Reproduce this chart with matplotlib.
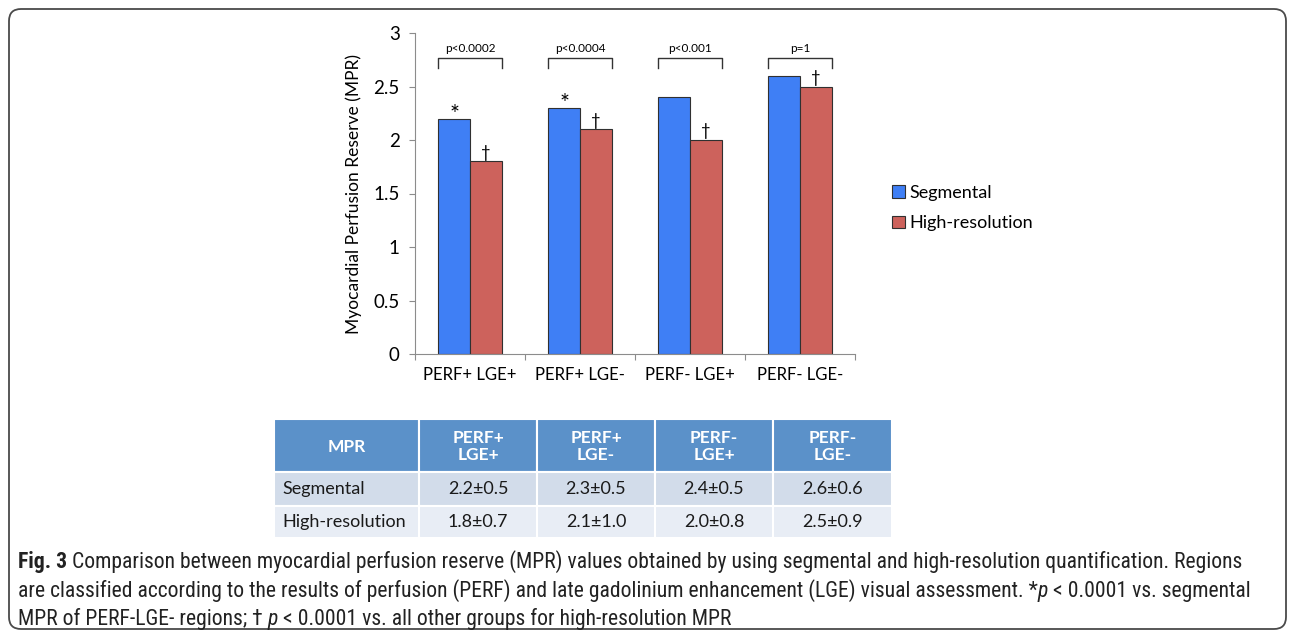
import matplotlib
matplotlib.use("Agg")
import matplotlib.pyplot as plt
from matplotlib.patches import FancyBboxPatch, Rectangle
from matplotlib import font_manager
import numpy as np

# data
categories = ["PERF+ LGE+", "PERF+ LGE-", "PERF- LGE+", "PERF- LGE-"]
segmental = [2.2, 2.3, 2.4, 2.6]
high_res = [1.8, 2.1, 2.0, 2.5]
seg_sd = [0.5, 0.5, 0.5, 0.6]
high_sd = [0.7, 1.0, 0.8, 0.9]
p_values = ["p<0.0002", "p<0.0004", "p<0.001", "p=1"]
star_marks = [True, True, False, False]
dagger_marks = [True, True, True, True]
series_names = ["Segmental", "High-resolution"]
table_head = ["MPR", "PERF+\nLGE+", "PERF+\nLGE-", "PERF-\nLGE+", "PERF-\nLGE-"]

BLUE = "#3f7ff5"
RED = "#cd625c"
CHART_FONT = ["Lato", "DejaVu Sans"]

names = {f.name for f in font_manager.fontManager.ttflist}
cap_font = next((n for n in ["Liberation Sans Narrow", "Roboto Condensed", "Open Sans Condensed"]
                 if n in names), "Roboto")

W, H = 1295, 637
fig = plt.figure(figsize=(W / 100, H / 100), dpi=100)

# overlay in pixel coords for border, table and caption
ov = fig.add_axes([0, 0, 1, 1])
ov.set_xlim(0, W)
ov.set_ylim(H, 0)
ov.axis("off")
ov.add_patch(FancyBboxPatch((9, 9), W - 18, H - 17, boxstyle="round,pad=0,rounding_size=12",
                            fc="white", ec="#4a4a4a", lw=1.3))

# --- bar chart ---
ax = fig.add_axes([415 / W, (H - 354) / H, 440 / W, 321 / H])
ax.set_facecolor("none")
x = np.arange(len(categories))
w = 0.29
ax.bar(x - w / 2, segmental, w, color=BLUE, edgecolor="#303030", lw=0.8, label=series_names[0])
ax.bar(x + w / 2, high_res, w, color=RED, edgecolor="#303030", lw=0.8, label=series_names[1])

for i in range(len(categories)):
    x0, x1 = i - w, i + w
    ax.plot([x0, x0, x1, x1], [2.67, 2.77, 2.77, 2.67], color="#333333", lw=1)
    ax.text(i, 2.855, p_values[i], ha="center", va="center", fontsize=8.5, family=CHART_FONT)
    if star_marks[i]:
        ax.text(i - w / 2, segmental[i] + 0.04, "*", ha="center", va="center",
                fontsize=17, family=CHART_FONT)
    if dagger_marks[i]:
        ax.text(i + w / 2, high_res[i] + 0.08, "\u2020", ha="center", va="center",
                fontsize=12, family=CHART_FONT)

ax.set_xlim(-0.5, len(categories) - 0.5)
ax.set_ylim(0, 3)
ax.set_yticks(np.arange(0, 3.01, 0.5))
ax.set_yticklabels(["0", "0.5", "1", "1.5", "2", "2.5", "3"], family=CHART_FONT, fontsize=13.5)
ax.set_xticks(np.arange(-0.5, len(categories)))
ax.set_xticklabels([])
ax.set_xticks(x, minor=True)
ax.set_xticklabels(categories, minor=True, family=CHART_FONT, fontsize=12)
ax.tick_params(axis="y", length=4, color="#8c8c8c", pad=7)
ax.tick_params(axis="x", which="major", length=4, color="#8c8c8c")
ax.tick_params(axis="x", which="minor", length=0, pad=9)
for s in ["top", "right"]:
    ax.spines[s].set_visible(False)
for s in ["left", "bottom"]:
    ax.spines[s].set_color("#8c8c8c")
ax.set_ylabel("Myocardial Perfusion Reserve (MPR)", family=CHART_FONT, fontsize=12.5)
ax.yaxis.set_label_coords(-0.12, 0.5)

ax.legend(loc="center left", bbox_to_anchor=(892 / W, 1 - 208 / H), bbox_transform=fig.transFigure,
          frameon=False, handlelength=0.7, handleheight=0.7, handletextpad=0.25,
          labelspacing=0.8, borderpad=0, borderaxespad=0,
          prop={"family": CHART_FONT, "size": 13})

# --- table ---
cx = [274, 419, 537, 655, 773, 892]
ry = [419, 472, 506, 538]
row_fill = ["#5b91c9", "#d2dcea", "#e8edf5"]
rows = [series_names[0]] + [f"{m:.1f}\u00b1{s:.1f}" for m, s in zip(segmental, seg_sd)], \
       [series_names[1]] + [f"{m:.1f}\u00b1{s:.1f}" for m, s in zip(high_res, high_sd)]
all_rows = [table_head] + list(rows)
for r in range(3):
    for c in range(5):
        ov.add_patch(Rectangle((cx[c], ry[r]), cx[c + 1] - cx[c], ry[r + 1] - ry[r],
                               fc=row_fill[r], ec="white", lw=1.5))
        yc = (ry[r] + ry[r + 1]) / 2
        txt = all_rows[r][c]
        if r == 0:
            ov.text((cx[c] + cx[c + 1]) / 2, yc + 1, txt, ha="center", va="center", color="white",
                    fontweight="bold", fontsize=12.5, linespacing=1.15, family=CHART_FONT)
        elif c == 0:
            ov.text(cx[0] + 8, yc, txt, ha="left", va="center", fontsize=13,
                    color="#1a1a1a", family=CHART_FONT)
        else:
            ov.text((cx[c] + cx[c + 1]) / 2, yc, txt, ha="center", va="center", fontsize=13,
                    color="#1a1a1a", family=CHART_FONT)

# --- caption ---
renderer = fig.canvas.get_renderer()
cap_lines = [
    [("Fig. 3", "bold"), (" Comparison between myocardial perfusion reserve (MPR) values obtained by using "
                          "segmental and high-resolution quantification. Regions", "normal")],
    [("are classified according to the results of perfusion (PERF) and late gadolinium enhancement "
      "(LGE) visual assessment. *", "normal"), ("p", "italic"), (" < 0.0001 vs. segmental", "normal")],
    [("MPR of PERF-LGE- regions; \u2020 ", "normal"), ("p", "italic"),
     (" < 0.0001 vs. all other groups for high-resolution MPR", "normal")],
]
cap_right = [1274, 1250, 740]


def style_kw(style):
    if style == "bold":
        return {"fontweight": "bold"}
    if style == "italic":
        return {"fontstyle": "italic"}
    return {}


def text_w(s, size, style):
    t = ov.text(0, 0, s, fontsize=size, family=[cap_font, "DejaVu Sans"], **style_kw(style))
    wd = t.get_window_extent(renderer).width
    t.remove()
    return wd


def draw_line(x0, y, runs, size, draw=True):
    sp = text_w("x x", size, "normal") - text_w("xx", size, "normal")
    xx = x0
    for s, style in runs:
        lead = len(s) - len(s.lstrip(" "))
        trail = len(s) - len(s.rstrip(" "))
        core = s.strip(" ")
        xx += lead * sp
        if draw:
            ov.text(xx, y, core, fontsize=size, family=[cap_font, "DejaVu Sans"], va="baseline",
                    ha="left", color="#222222", **style_kw(style))
        xx += text_w(core, size, style) + trail * sp
    return xx - x0


# largest size at which no caption line runs past its right edge in the reference
cap_size = 12.0
for _ in range(4):
    cap_size *= min((r - 18) / draw_line(18, 0, ln, cap_size, draw=False)
                    for ln, r in zip(cap_lines, cap_right))
for ln, yb in zip(cap_lines, [568, 597, 625]):
    draw_line(18, yb, ln, cap_size)

fig.savefig("out.png", dpi=100)
